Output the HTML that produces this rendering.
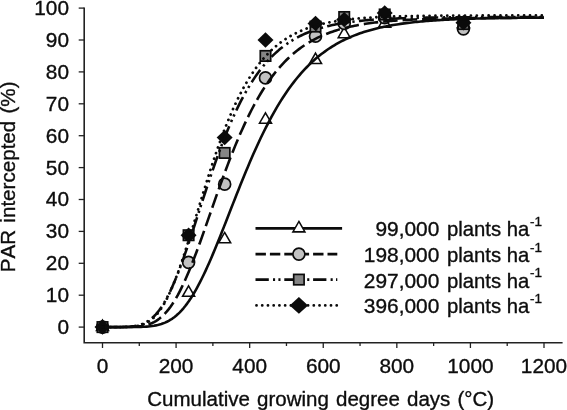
<!DOCTYPE html>
<html><head><meta charset="utf-8"><title>PAR intercepted</title>
<style>html,body{margin:0;padding:0;background:#fff}svg{display:block;will-change:transform}text{font-family:"Liberation Sans",sans-serif;fill:#0d0d0d;stroke:#0d0d0d;stroke-width:0.35px;font-kerning:none}</style></head><body>
<svg width="567" height="410" viewBox="0 0 567 410">
<rect width="567" height="410" fill="#fff"/>
<g stroke="#222" stroke-width="1.3" fill="none" stroke-linecap="butt">
<path d="M84.2 7.5V342.7H562.6" stroke-width="1.6"/>
<path d="M78.7 327.10H84.2"/>
<path d="M78.7 295.20H84.2"/>
<path d="M78.7 263.30H84.2"/>
<path d="M78.7 231.40H84.2"/>
<path d="M78.7 199.50H84.2"/>
<path d="M78.7 167.60H84.2"/>
<path d="M78.7 135.70H84.2"/>
<path d="M78.7 103.80H84.2"/>
<path d="M78.7 71.90H84.2"/>
<path d="M78.7 40.00H84.2"/>
<path d="M78.7 8.10H84.2"/>
<path d="M102.50 342.7V348.00"/>
<path d="M139.29 342.7V346.00"/>
<path d="M176.08 342.7V348.00"/>
<path d="M212.88 342.7V346.00"/>
<path d="M249.67 342.7V348.00"/>
<path d="M286.46 342.7V346.00"/>
<path d="M323.25 342.7V348.00"/>
<path d="M360.04 342.7V346.00"/>
<path d="M396.83 342.7V348.00"/>
<path d="M433.62 342.7V346.00"/>
<path d="M470.42 342.7V348.00"/>
<path d="M507.21 342.7V346.00"/>
<path d="M544.00 342.7V348.00"/>
</g>
<g font-size="20.8">
<text x="69" y="334.05" text-anchor="end">0</text>
<text x="69" y="302.15" text-anchor="end">10</text>
<text x="69" y="270.25" text-anchor="end">20</text>
<text x="69" y="238.35" text-anchor="end">30</text>
<text x="69" y="206.45" text-anchor="end">40</text>
<text x="69" y="174.55" text-anchor="end">50</text>
<text x="69" y="142.65" text-anchor="end">60</text>
<text x="69" y="110.75" text-anchor="end">70</text>
<text x="69" y="78.85" text-anchor="end">80</text>
<text x="69" y="46.95" text-anchor="end">90</text>
<text x="69" y="15.05" text-anchor="end">100</text>
<text x="102.50" y="373.2" text-anchor="middle">0</text>
<text x="176.08" y="373.2" text-anchor="middle">200</text>
<text x="249.67" y="373.2" text-anchor="middle">400</text>
<text x="323.25" y="373.2" text-anchor="middle">600</text>
<text x="396.83" y="373.2" text-anchor="middle">800</text>
<text x="470.42" y="373.2" text-anchor="middle">1000</text>
<text x="544.00" y="373.2" text-anchor="middle">1200</text>
</g>
<text x="147.3" y="405.7" font-size="20.5" style="word-spacing:1.5px">Cumulative growing degree days (°C)</text>
<text transform="translate(14.9 272.2) rotate(-90)" font-size="20.6" style="word-spacing:1.5px">PAR intercepted (%)</text>
<g>
<path d="M102.50 320.17L108.50 330.56L96.50 330.56Z" fill="#fff" stroke="#0b0b0b" stroke-width="1.55"/>
<path d="M188.59 285.88L194.59 296.27L182.59 296.27Z" fill="#fff" stroke="#0b0b0b" stroke-width="1.55"/>
<path d="M224.65 232.45L230.65 242.84L218.65 242.84Z" fill="#fff" stroke="#0b0b0b" stroke-width="1.55"/>
<path d="M265.49 112.82L271.49 123.21L259.49 123.21Z" fill="#fff" stroke="#0b0b0b" stroke-width="1.55"/>
<path d="M315.52 53.17L321.52 63.56L309.52 63.56Z" fill="#fff" stroke="#0b0b0b" stroke-width="1.55"/>
<path d="M344.22 27.33L350.22 37.72L338.22 37.72Z" fill="#fff" stroke="#0b0b0b" stroke-width="1.55"/>
<path d="M384.69 16.80L390.69 27.20L378.69 27.20Z" fill="#fff" stroke="#0b0b0b" stroke-width="1.55"/>
<path d="M463.43 17.12L469.43 27.51L457.43 27.51Z" fill="#fff" stroke="#0b0b0b" stroke-width="1.55"/>
</g>
<g>
<circle cx="102.50" cy="327.10" r="6.0" fill="#c2c2c2" stroke="#0b0b0b" stroke-width="1.7"/>
<circle cx="188.59" cy="262.34" r="6.0" fill="#c2c2c2" stroke="#0b0b0b" stroke-width="1.7"/>
<circle cx="224.65" cy="184.19" r="6.0" fill="#c2c2c2" stroke="#0b0b0b" stroke-width="1.7"/>
<circle cx="265.49" cy="77.96" r="6.0" fill="#c2c2c2" stroke="#0b0b0b" stroke-width="1.7"/>
<circle cx="315.52" cy="36.17" r="6.0" fill="#c2c2c2" stroke="#0b0b0b" stroke-width="1.7"/>
<circle cx="344.22" cy="23.41" r="6.0" fill="#c2c2c2" stroke="#0b0b0b" stroke-width="1.7"/>
<circle cx="384.69" cy="17.67" r="6.0" fill="#c2c2c2" stroke="#0b0b0b" stroke-width="1.7"/>
<circle cx="463.43" cy="28.84" r="6.0" fill="#c2c2c2" stroke="#0b0b0b" stroke-width="1.7"/>
</g>
<g>
<rect x="97.30" y="321.90" width="10.4" height="10.4" fill="#858585" stroke="#0b0b0b" stroke-width="1.7"/>
<rect x="183.39" y="230.03" width="10.4" height="10.4" fill="#858585" stroke="#0b0b0b" stroke-width="1.7"/>
<rect x="219.45" y="147.73" width="10.4" height="10.4" fill="#858585" stroke="#0b0b0b" stroke-width="1.7"/>
<rect x="260.29" y="50.75" width="10.4" height="10.4" fill="#858585" stroke="#0b0b0b" stroke-width="1.7"/>
<rect x="310.32" y="21.40" width="10.4" height="10.4" fill="#858585" stroke="#0b0b0b" stroke-width="1.7"/>
<rect x="339.02" y="11.83" width="10.4" height="10.4" fill="#858585" stroke="#0b0b0b" stroke-width="1.7"/>
<rect x="379.49" y="9.28" width="10.4" height="10.4" fill="#858585" stroke="#0b0b0b" stroke-width="1.7"/>
<rect x="458.23" y="18.85" width="10.4" height="10.4" fill="#858585" stroke="#0b0b0b" stroke-width="1.7"/>
</g>
<g>
<path d="M102.50 319.40L110.50 327.10L102.50 334.80L94.50 327.10Z" fill="#0b0b0b"/>
<path d="M188.59 227.53L196.59 235.23L188.59 242.93L180.59 235.23Z" fill="#0b0b0b"/>
<path d="M224.65 129.91L232.65 137.61L224.65 145.31L216.65 137.61Z" fill="#0b0b0b"/>
<path d="M265.49 32.30L273.49 40.00L265.49 47.70L257.49 40.00Z" fill="#0b0b0b"/>
<path d="M315.52 15.71L323.52 23.41L315.52 31.11L307.52 23.41Z" fill="#0b0b0b"/>
<path d="M344.22 11.88L352.22 19.58L344.22 27.28L336.22 19.58Z" fill="#0b0b0b"/>
<path d="M384.69 5.19L392.69 12.89L384.69 20.59L376.69 12.89Z" fill="#0b0b0b"/>
<path d="M463.43 15.07L471.43 22.77L463.43 30.47L455.43 22.77Z" fill="#0b0b0b"/>
</g>
<g fill="none" stroke="#0b0b0b" stroke-width="2.6" stroke-linejoin="round">
<path d="M102.50 327.10L104.34 327.10L106.18 327.10L108.02 327.10L109.86 327.10L111.70 327.10L113.54 327.10L115.38 327.10L117.22 327.10L119.06 327.10L120.90 327.10L122.74 327.09L124.58 327.09L126.41 327.09L128.25 327.08L130.09 327.07L131.93 327.06L133.77 327.04L135.61 327.01L137.45 326.98L139.29 326.94L141.13 326.88L142.97 326.80L144.81 326.71L146.65 326.59L148.49 326.43L150.33 326.24L152.17 326.01L154.01 325.73L155.85 325.40L157.69 325.00L159.53 324.53L161.37 323.98L163.21 323.34L165.05 322.61L166.89 321.77L168.72 320.81L170.56 319.74L172.40 318.54L174.24 317.20L176.08 315.72L177.92 314.09L179.76 312.31L181.60 310.37L183.44 308.27L185.28 306.01L187.12 303.59L188.96 301.00L190.80 298.25L192.64 295.34L194.48 292.28L196.32 289.05L198.16 285.68L200.00 282.17L201.84 278.52L203.68 274.73L205.52 270.83L207.36 266.80L209.20 262.67L211.04 258.45L212.88 254.13L214.71 249.73L216.55 245.26L218.39 240.73L220.23 236.15L222.07 231.52L223.91 226.86L225.75 222.18L227.59 217.48L229.43 212.77L231.27 208.07L233.11 203.37L234.95 198.68L236.79 194.03L238.63 189.40L240.47 184.80L242.31 180.25L244.15 175.75L245.99 171.29L247.83 166.90L249.67 162.57L251.51 158.30L253.35 154.10L255.19 149.97L257.02 145.92L258.86 141.94L260.70 138.04L262.54 134.23L264.38 130.49L266.22 126.84L268.06 123.28L269.90 119.79L271.74 116.40L273.58 113.08L275.42 109.86L277.26 106.71L279.10 103.66L280.94 100.68L282.78 97.79L284.62 94.98L286.46 92.26L288.30 89.61L290.14 87.04L291.98 84.55L293.82 82.14L295.66 79.80L297.50 77.54L299.34 75.35L301.18 73.22L303.01 71.17L304.85 69.19L306.69 67.27L308.53 65.41L310.37 63.62L312.21 61.89L314.05 60.22L315.89 58.60L317.73 57.05L319.57 55.54L321.41 54.09L323.25 52.69L325.09 51.34L326.93 50.04L328.77 48.79L330.61 47.58L332.45 46.42L334.29 45.29L336.13 44.21L337.97 43.17L339.81 42.17L341.65 41.21L343.49 40.28L345.32 39.38L347.16 38.52L349.00 37.69L350.84 36.90L352.68 36.13L354.52 35.39L356.36 34.68L358.20 34.00L360.04 33.34L361.88 32.71L363.72 32.11L365.56 31.52L367.40 30.96L369.24 30.42L371.08 29.90L372.92 29.41L374.76 28.93L376.60 28.47L378.44 28.03L380.28 27.60L382.12 27.19L383.96 26.80L385.80 26.42L387.64 26.06L389.48 25.71L391.31 25.38L393.15 25.06L394.99 24.75L396.83 24.45L398.67 24.17L400.51 23.90L402.35 23.63L404.19 23.38L406.03 23.14L407.87 22.91L409.71 22.69L411.55 22.47L413.39 22.27L415.23 22.07L417.07 21.88L418.91 21.70L420.75 21.52L422.59 21.35L424.43 21.19L426.27 21.04L428.11 20.89L429.95 20.75L431.79 20.61L433.62 20.48L435.46 20.35L437.30 20.23L439.14 20.12L440.98 20.01L442.82 19.90L444.66 19.80L446.50 19.70L448.34 19.60L450.18 19.51L452.02 19.42L453.86 19.34L455.70 19.26L457.54 19.18L459.38 19.11L461.22 19.04L463.06 18.97L464.90 18.90L466.74 18.84L468.58 18.78L470.42 18.72L472.26 18.67L474.10 18.62L475.94 18.56L477.77 18.52L479.61 18.47L481.45 18.42L483.29 18.38L485.13 18.34L486.97 18.30L488.81 18.26L490.65 18.22L492.49 18.19L494.33 18.15L496.17 18.12L498.01 18.09L499.85 18.06L501.69 18.03L503.53 18.00L505.37 17.98L507.21 17.95L509.05 17.93L510.89 17.90L512.73 17.88L514.57 17.86L516.41 17.84L518.25 17.82L520.09 17.80L521.92 17.78L523.76 17.77L525.60 17.75L527.44 17.73L529.28 17.72L531.12 17.70L532.96 17.69L534.80 17.67L536.64 17.66L538.48 17.65L540.32 17.64L542.16 17.63L544.00 17.61"/>
<path d="M102.50 327.10L104.34 327.10L106.18 327.10L108.02 327.10L109.86 327.10L111.70 327.10L113.54 327.10L115.38 327.09L117.22 327.09L119.06 327.09L120.90 327.08L122.74 327.06L124.58 327.05L126.41 327.02L128.25 326.98L130.09 326.93L131.93 326.87L133.77 326.78L135.61 326.66L137.45 326.51L139.29 326.31L141.13 326.07L142.97 325.76L144.81 325.39L146.65 324.93L148.49 324.39L150.33 323.74L152.17 322.98L154.01 322.09L155.85 321.06L157.69 319.89L159.53 318.55L161.37 317.04L163.21 315.35L165.05 313.48L166.89 311.41L168.72 309.15L170.56 306.68L172.40 304.01L174.24 301.13L176.08 298.05L177.92 294.77L179.76 291.29L181.60 287.62L183.44 283.77L185.28 279.74L187.12 275.54L188.96 271.19L190.80 266.69L192.64 262.05L194.48 257.30L196.32 252.43L198.16 247.47L200.00 242.43L201.84 237.32L203.68 232.15L205.52 226.94L207.36 221.69L209.20 216.43L211.04 211.16L212.88 205.89L214.71 200.64L216.55 195.42L218.39 190.23L220.23 185.09L222.07 179.99L223.91 174.96L225.75 169.99L227.59 165.10L229.43 160.29L231.27 155.56L233.11 150.92L234.95 146.37L236.79 141.92L238.63 137.57L240.47 133.32L242.31 129.17L244.15 125.13L245.99 121.20L247.83 117.37L249.67 113.64L251.51 110.03L253.35 106.52L255.19 103.12L257.02 99.82L258.86 96.62L260.70 93.53L262.54 90.54L264.38 87.65L266.22 84.85L268.06 82.16L269.90 79.55L271.74 77.04L273.58 74.62L275.42 72.29L277.26 70.04L279.10 67.87L280.94 65.79L282.78 63.78L284.62 61.85L286.46 60.00L288.30 58.21L290.14 56.50L291.98 54.85L293.82 53.27L295.66 51.75L297.50 50.30L299.34 48.90L301.18 47.55L303.01 46.27L304.85 45.03L306.69 43.85L308.53 42.71L310.37 41.63L312.21 40.58L314.05 39.58L315.89 38.63L317.73 37.71L319.57 36.83L321.41 35.99L323.25 35.19L325.09 34.42L326.93 33.68L328.77 32.97L330.61 32.30L332.45 31.65L334.29 31.03L336.13 30.44L337.97 29.87L339.81 29.33L341.65 28.81L343.49 28.32L345.32 27.84L347.16 27.39L349.00 26.96L350.84 26.54L352.68 26.15L354.52 25.77L356.36 25.41L358.20 25.06L360.04 24.73L361.88 24.42L363.72 24.11L365.56 23.83L367.40 23.55L369.24 23.29L371.08 23.03L372.92 22.79L374.76 22.56L376.60 22.34L378.44 22.13L380.28 21.93L382.12 21.74L383.96 21.56L385.80 21.38L387.64 21.22L389.48 21.06L391.31 20.90L393.15 20.76L394.99 20.62L396.83 20.49L398.67 20.36L400.51 20.24L402.35 20.12L404.19 20.01L406.03 19.91L407.87 19.81L409.71 19.71L411.55 19.62L413.39 19.53L415.23 19.45L417.07 19.37L418.91 19.29L420.75 19.22L422.59 19.15L424.43 19.08L426.27 19.02L428.11 18.96L429.95 18.90L431.79 18.84L433.62 18.79L435.46 18.74L437.30 18.69L439.14 18.64L440.98 18.60L442.82 18.56L444.66 18.52L446.50 18.48L448.34 18.44L450.18 18.41L452.02 18.37L453.86 18.34L455.70 18.31L457.54 18.28L459.38 18.26L461.22 18.23L463.06 18.20L464.90 18.18L466.74 18.16L468.58 18.13L470.42 18.11L472.26 18.09L474.10 18.07L475.94 18.06L477.77 18.04L479.61 18.02L481.45 18.01L483.29 17.99L485.13 17.98L486.97 17.96L488.81 17.95L490.65 17.94L492.49 17.92L494.33 17.91L496.17 17.90L498.01 17.89L499.85 17.88L501.69 17.87L503.53 17.86L505.37 17.85L507.21 17.85L509.05 17.84L510.89 17.83L512.73 17.82L514.57 17.82L516.41 17.81L518.25 17.80L520.09 17.80L521.92 17.79L523.76 17.79L525.60 17.78L527.44 17.78L529.28 17.77L531.12 17.77L532.96 17.76L534.80 17.76L536.64 17.75L538.48 17.75L540.32 17.75L542.16 17.74L544.00 17.74" stroke-dasharray="14.5 5" stroke-dashoffset="12.34"/>
<path d="M102.50 327.10L104.34 327.10L106.18 327.10L108.02 327.10L109.86 327.10L111.70 327.09L113.54 327.09L115.38 327.08L117.22 327.07L119.06 327.05L120.90 327.02L122.74 326.98L124.58 326.92L126.41 326.84L128.25 326.74L130.09 326.60L131.93 326.41L133.77 326.17L135.61 325.87L137.45 325.49L139.29 325.02L141.13 324.44L142.97 323.75L144.81 322.92L146.65 321.94L148.49 320.80L150.33 319.48L152.17 317.97L154.01 316.26L155.85 314.33L157.69 312.18L159.53 309.80L161.37 307.19L163.21 304.34L165.05 301.25L166.89 297.92L168.72 294.35L170.56 290.56L172.40 286.54L174.24 282.31L176.08 277.88L177.92 273.25L179.76 268.46L181.60 263.49L183.44 258.38L185.28 253.14L187.12 247.79L188.96 242.34L190.80 236.80L192.64 231.20L194.48 225.55L196.32 219.87L198.16 214.17L200.00 208.47L201.84 202.78L203.68 197.11L205.52 191.48L207.36 185.90L209.20 180.38L211.04 174.93L212.88 169.55L214.71 164.26L216.55 159.07L218.39 153.97L220.23 148.98L222.07 144.10L223.91 139.33L225.75 134.68L227.59 130.15L229.43 125.74L231.27 121.46L233.11 117.30L234.95 113.26L236.79 109.35L238.63 105.57L240.47 101.90L242.31 98.36L244.15 94.94L245.99 91.64L247.83 88.46L249.67 85.40L251.51 82.44L253.35 79.60L255.19 76.86L257.02 74.23L258.86 71.70L260.70 69.28L262.54 66.95L264.38 64.71L266.22 62.56L268.06 60.51L269.90 58.54L271.74 56.65L273.58 54.84L275.42 53.11L277.26 51.45L279.10 49.86L280.94 48.35L282.78 46.89L284.62 45.51L286.46 44.18L288.30 42.91L290.14 41.70L291.98 40.55L293.82 39.44L295.66 38.39L297.50 37.38L299.34 36.42L301.18 35.50L303.01 34.63L304.85 33.79L306.69 33.00L308.53 32.24L310.37 31.51L312.21 30.82L314.05 30.17L315.89 29.54L317.73 28.94L319.57 28.37L321.41 27.83L323.25 27.31L325.09 26.82L326.93 26.35L328.77 25.90L330.61 25.47L332.45 25.07L334.29 24.68L336.13 24.31L337.97 23.96L339.81 23.63L341.65 23.31L343.49 23.00L345.32 22.72L347.16 22.44L349.00 22.18L350.84 21.93L352.68 21.69L354.52 21.47L356.36 21.25L358.20 21.05L360.04 20.85L361.88 20.67L363.72 20.49L365.56 20.32L367.40 20.16L369.24 20.01L371.08 19.87L372.92 19.73L374.76 19.60L376.60 19.47L378.44 19.36L380.28 19.24L382.12 19.14L383.96 19.03L385.80 18.94L387.64 18.84L389.48 18.75L391.31 18.67L393.15 18.59L394.99 18.52L396.83 18.44L398.67 18.37L400.51 18.31L402.35 18.25L404.19 18.19L406.03 18.13L407.87 18.08L409.71 18.03L411.55 17.98L413.39 17.93L415.23 17.89L417.07 17.85L418.91 17.81L420.75 17.77L422.59 17.73L424.43 17.70L426.27 17.67L428.11 17.64L429.95 17.61L431.79 17.58L433.62 17.55L435.46 17.53L437.30 17.50L439.14 17.48L440.98 17.46L442.82 17.44L444.66 17.42L446.50 17.40L448.34 17.38L450.18 17.36L452.02 17.35L453.86 17.33L455.70 17.32L457.54 17.30L459.38 17.29L461.22 17.28L463.06 17.27L464.90 17.25L466.74 17.24L468.58 17.23L470.42 17.22L472.26 17.21L474.10 17.21L475.94 17.20L477.77 17.19L479.61 17.18L481.45 17.17L483.29 17.17L485.13 17.16L486.97 17.15L488.81 17.15L490.65 17.14L492.49 17.14L494.33 17.13L496.17 17.13L498.01 17.12L499.85 17.12L501.69 17.11L503.53 17.11L505.37 17.11L507.21 17.10L509.05 17.10L510.89 17.10L512.73 17.09L514.57 17.09L516.41 17.09L518.25 17.08L520.09 17.08L521.92 17.08L523.76 17.08L525.60 17.07L527.44 17.07L529.28 17.07L531.12 17.07L532.96 17.07L534.80 17.07L536.64 17.06L538.48 17.06L540.32 17.06L542.16 17.06L544.00 17.06" stroke-dasharray="15 4.6 2.3 3.7 2.3 4.3" stroke-dashoffset="12.96"/>
<path d="M102.50 327.10L104.34 327.10L106.18 327.10L108.02 327.10L109.86 327.10L111.70 327.10L113.54 327.10L115.38 327.09L117.22 327.09L119.06 327.08L120.90 327.06L122.74 327.04L124.58 327.00L126.41 326.95L128.25 326.88L130.09 326.79L131.93 326.65L133.77 326.47L135.61 326.23L137.45 325.93L139.29 325.54L141.13 325.04L142.97 324.44L144.81 323.70L146.65 322.81L148.49 321.74L150.33 320.50L152.17 319.05L154.01 317.38L155.85 315.47L157.69 313.33L159.53 310.92L161.37 308.26L163.21 305.33L165.05 302.13L166.89 298.66L168.72 294.93L170.56 290.93L172.40 286.69L174.24 282.20L176.08 277.48L177.92 272.56L179.76 267.43L181.60 262.12L183.44 256.66L185.28 251.04L187.12 245.31L188.96 239.47L190.80 233.55L192.64 227.57L194.48 221.54L196.32 215.48L198.16 209.41L200.00 203.36L201.84 197.32L203.68 191.33L205.52 185.39L207.36 179.51L209.20 173.72L211.04 168.01L212.88 162.40L214.71 156.90L216.55 151.51L218.39 146.24L220.23 141.09L222.07 136.08L223.91 131.20L225.75 126.45L227.59 121.85L229.43 117.38L231.27 113.06L233.11 108.87L234.95 104.83L236.79 100.92L238.63 97.15L240.47 93.52L242.31 90.02L244.15 86.66L245.99 83.42L247.83 80.31L249.67 77.33L251.51 74.46L253.35 71.71L255.19 69.08L257.02 66.55L258.86 64.14L260.70 61.82L262.54 59.61L264.38 57.50L266.22 55.48L268.06 53.54L269.90 51.70L271.74 49.94L273.58 48.26L275.42 46.65L277.26 45.12L279.10 43.67L280.94 42.28L282.78 40.95L284.62 39.69L286.46 38.49L288.30 37.34L290.14 36.25L291.98 35.21L293.82 34.22L295.66 33.29L297.50 32.39L299.34 31.54L301.18 30.73L303.01 29.96L304.85 29.23L306.69 28.53L308.53 27.87L310.37 27.24L312.21 26.65L314.05 26.08L315.89 25.54L317.73 25.03L319.57 24.54L321.41 24.08L323.25 23.64L325.09 23.22L326.93 22.82L328.77 22.45L330.61 22.09L332.45 21.75L334.29 21.43L336.13 21.12L337.97 20.83L339.81 20.56L341.65 20.30L343.49 20.05L345.32 19.81L347.16 19.59L349.00 19.37L350.84 19.17L352.68 18.98L354.52 18.80L356.36 18.63L358.20 18.46L360.04 18.31L361.88 18.16L363.72 18.02L365.56 17.89L367.40 17.76L369.24 17.64L371.08 17.53L372.92 17.42L374.76 17.32L376.60 17.22L378.44 17.13L380.28 17.04L382.12 16.96L383.96 16.88L385.80 16.81L387.64 16.74L389.48 16.67L391.31 16.61L393.15 16.55L394.99 16.49L396.83 16.44L398.67 16.39L400.51 16.34L402.35 16.29L404.19 16.25L406.03 16.20L407.87 16.17L409.71 16.13L411.55 16.09L413.39 16.06L415.23 16.03L417.07 16.00L418.91 15.97L420.75 15.94L422.59 15.91L424.43 15.89L426.27 15.87L428.11 15.84L429.95 15.82L431.79 15.80L433.62 15.78L435.46 15.77L437.30 15.75L439.14 15.73L440.98 15.72L442.82 15.70L444.66 15.69L446.50 15.68L448.34 15.66L450.18 15.65L452.02 15.64L453.86 15.63L455.70 15.62L457.54 15.61L459.38 15.60L461.22 15.59L463.06 15.59L464.90 15.58L466.74 15.57L468.58 15.56L470.42 15.56L472.26 15.55L474.10 15.55L475.94 15.54L477.77 15.53L479.61 15.53L481.45 15.52L483.29 15.52L485.13 15.52L486.97 15.51L488.81 15.51L490.65 15.50L492.49 15.50L494.33 15.50L496.17 15.49L498.01 15.49L499.85 15.49L501.69 15.49L503.53 15.48L505.37 15.48L507.21 15.48L509.05 15.48L510.89 15.47L512.73 15.47L514.57 15.47L516.41 15.47L518.25 15.47L520.09 15.47L521.92 15.46L523.76 15.46L525.60 15.46L527.44 15.46L529.28 15.46L531.12 15.46L532.96 15.46L534.80 15.46L536.64 15.45L538.48 15.45L540.32 15.45L542.16 15.45L544.00 15.45" stroke-dasharray="0.01 5.9" stroke-linecap="round" stroke-width="2.8"/>
</g>
<g fill="none" stroke="#0b0b0b" stroke-width="2.7">
<path d="M255.5 228.4H342.1"/>
<path d="M255.5 254.1H337.3" stroke-dasharray="10.4 4.0"/>
<path d="M255.5 279.6H337.3" stroke-dasharray="13.3 4.2 2.1 3.3 2.1 3.8"/>
<path d="M256.5 305.4H342" stroke-dasharray="0.01 5.72" stroke-linecap="round" stroke-width="2.8"/>
</g>
<path d="M298.90 221.47L304.90 231.86L292.90 231.86Z" fill="#fff" stroke="#0b0b0b" stroke-width="1.55"/>
<circle cx="298.90" cy="254.10" r="6.0" fill="#c2c2c2" stroke="#0b0b0b" stroke-width="1.7"/>
<rect x="293.70" y="274.40" width="10.4" height="10.4" fill="#858585" stroke="#0b0b0b" stroke-width="1.7"/>
<path d="M298.90 297.10L308.10 305.40L298.90 313.70L289.70 305.40Z" fill="#0b0b0b"/>
<g>
<text x="439.3" y="236.40" text-anchor="end" font-size="20.9">99,000</text>
<text x="447.0" y="236.40" font-size="20.3">plants ha</text>
<text x="530.1" y="226.20" font-size="13.5">-1</text>
<text x="439.3" y="262.10" text-anchor="end" font-size="20.9">198,000</text>
<text x="447.0" y="262.10" font-size="20.3">plants ha</text>
<text x="530.1" y="251.90" font-size="13.5">-1</text>
<text x="439.3" y="287.60" text-anchor="end" font-size="20.9">297,000</text>
<text x="447.0" y="287.60" font-size="20.3">plants ha</text>
<text x="530.1" y="277.40" font-size="13.5">-1</text>
<text x="439.3" y="313.40" text-anchor="end" font-size="20.9">396,000</text>
<text x="447.0" y="313.40" font-size="20.3">plants ha</text>
<text x="530.1" y="303.20" font-size="13.5">-1</text>
</g>
</svg></body></html>
